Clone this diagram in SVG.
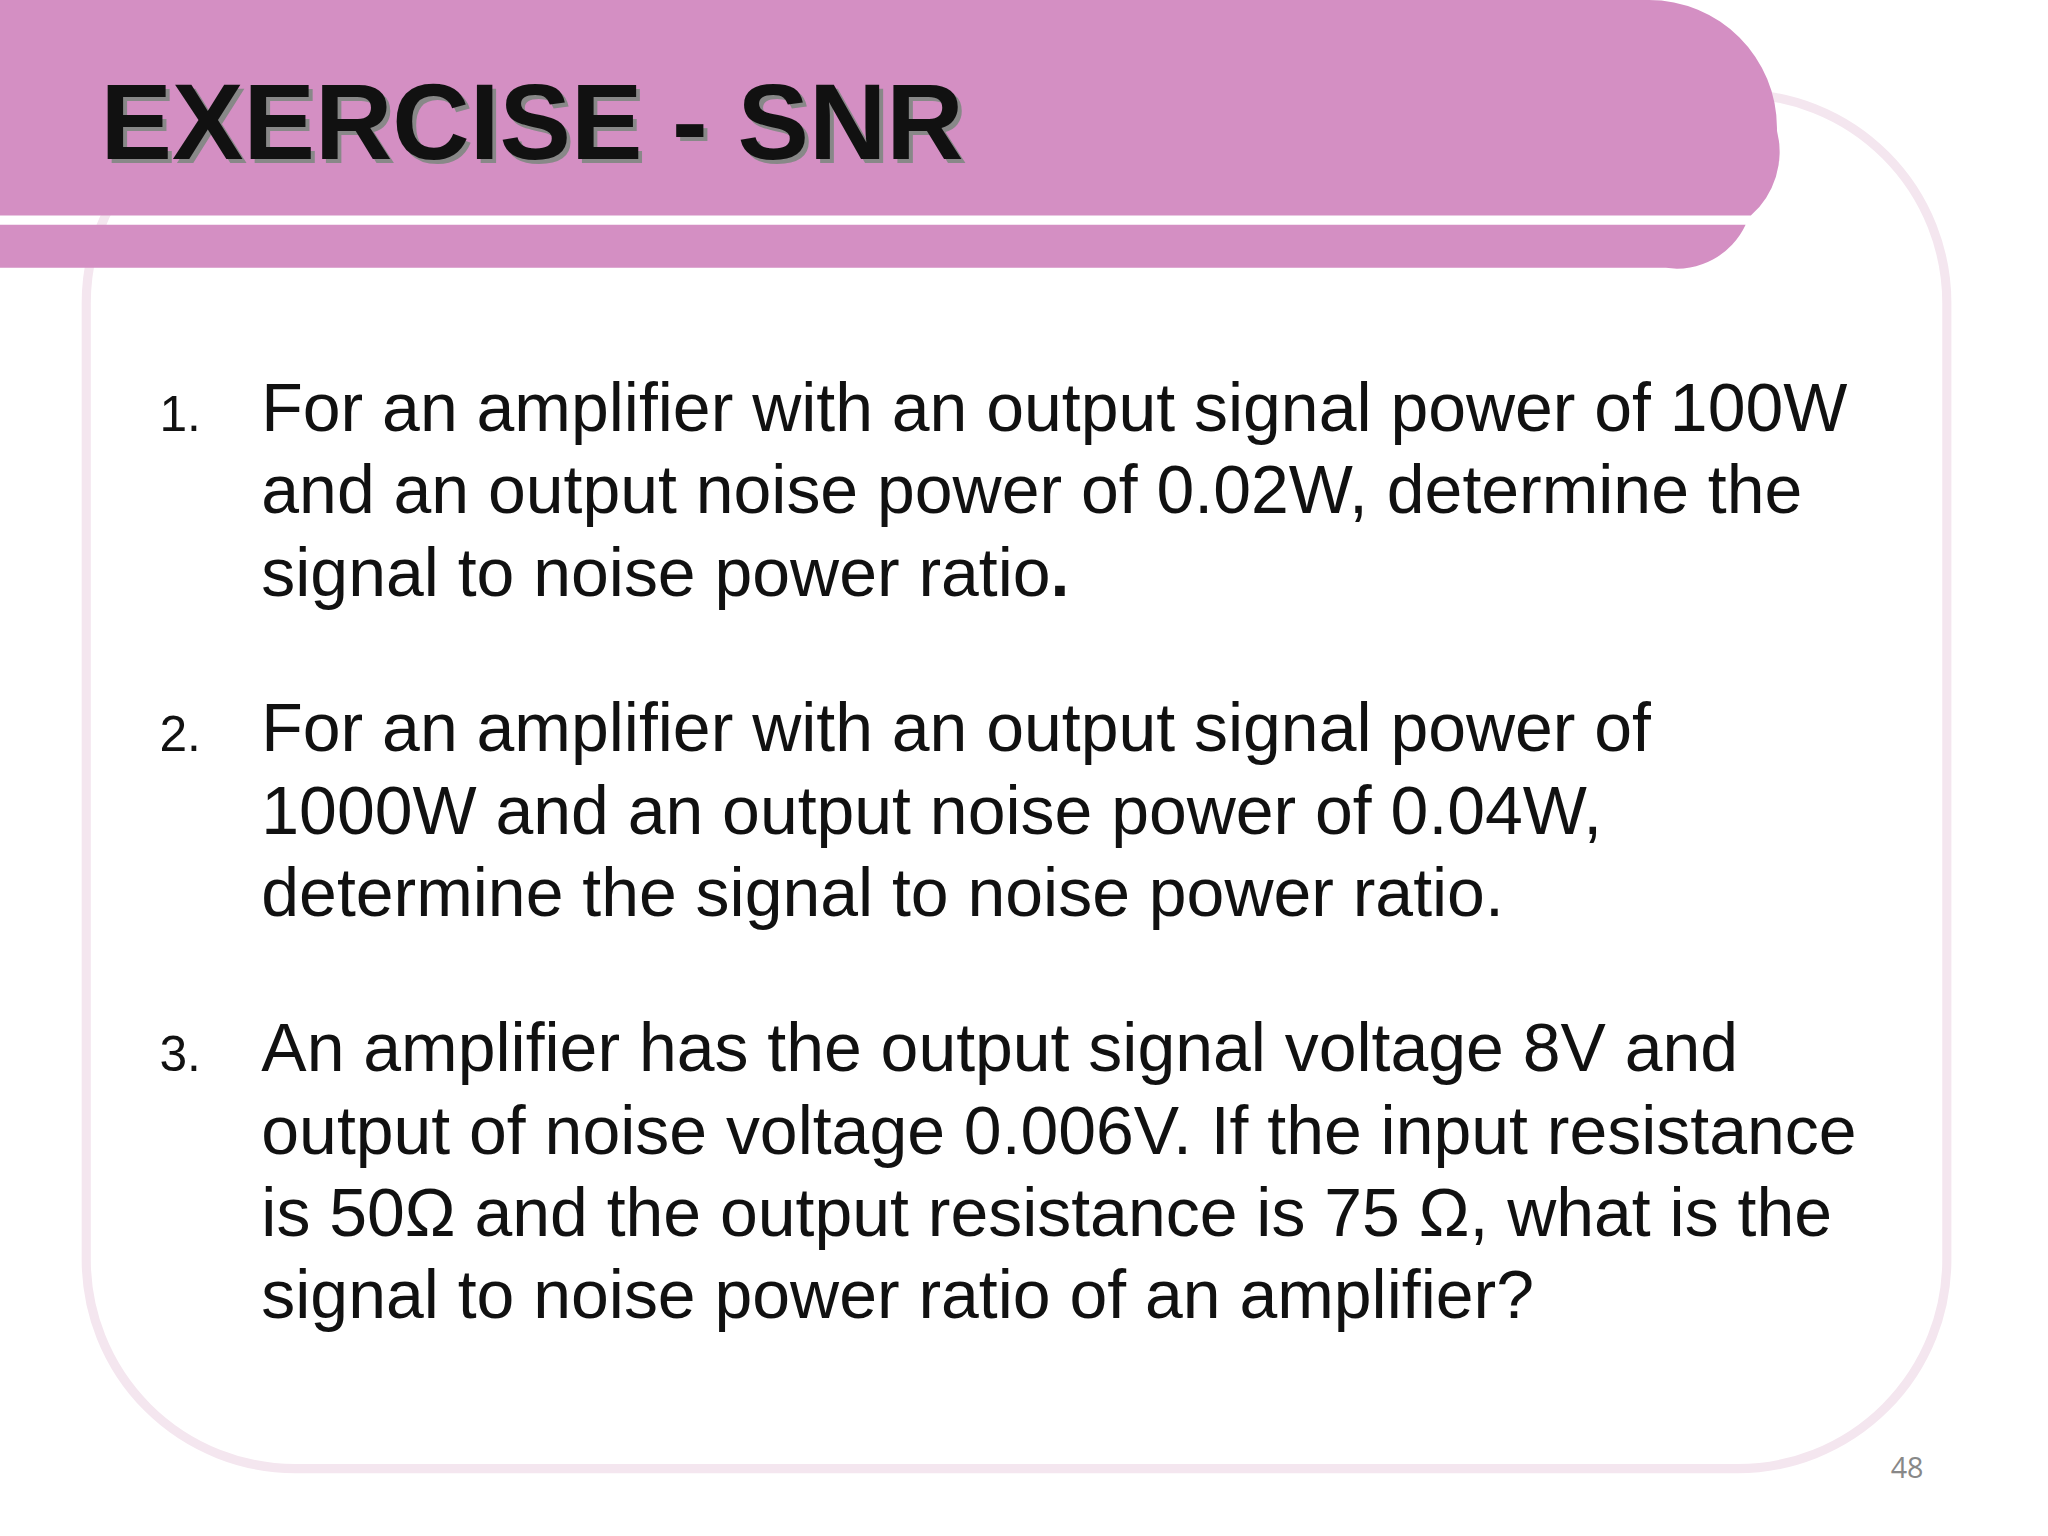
<svg xmlns="http://www.w3.org/2000/svg" width="2048" height="1536" viewBox="0 0 2048 1536">
<style>
.t{font-family:"Liberation Sans",Arial,sans-serif;fill:#111;font-size:52px}
.n{font-family:"Liberation Sans",Arial,sans-serif;fill:#111;font-size:38px}
</style>
<rect width="2048" height="1536" fill="#fff"/>
<g transform="scale(1.3066)">
<rect x="66" y="72" width="1424" height="1052" rx="160" fill="none" stroke="#f4e6ef" stroke-width="7"/>
<g id="header">
<path d="M0 0 H1262 A98 98 0 0 1 1360 98 V100 A65 65 0 0 1 1340 165 H0 Z" fill="#d48fc3"/>
<path d="M0 172 H1336 A58 58 0 0 1 1275 205 H0 Z" fill="#d48fc3"/>
<text x="80" y="125" font-family="Liberation Sans,Arial,sans-serif" font-weight="bold" font-size="82" fill="#888">EXERCISE - SNR</text>
<text x="77" y="122" font-family="Liberation Sans,Arial,sans-serif" font-weight="bold" font-size="82" fill="#111">EXERCISE - SNR</text>
</g>
<g id="list">
<text class="n" x="122" y="330">1.</text>
<text class="t" x="200" y="330">For an amplifier with an output signal power of 100W</text>
<text class="t" x="200" y="393">and an output noise power of 0.02W, determine the</text>
<text class="t" x="200" y="456">signal to noise power ratio<tspan font-weight="bold">.</tspan></text>
<text class="n" x="122" y="575">2.</text>
<text class="t" x="200" y="575">For an amplifier with an output signal power of</text>
<text class="t" x="200" y="638">1000W and an output noise power of 0.04W,</text>
<text class="t" x="200" y="701">determine the signal to noise power ratio.</text>
<text class="n" x="122" y="820">3.</text>
<text class="t" x="200" y="820">An amplifier has the output signal voltage 8V and</text>
<text class="t" x="200" y="883">output of noise voltage 0.006V. If the input resistance</text>
<text class="t" x="200" y="946">is 50Ω and the output resistance is 75 Ω, what is the</text>
<text class="t" x="200" y="1009">signal to noise power ratio of an amplifier?</text>
</g>
<text x="1447" y="1131" font-family="Open Sans,sans-serif" font-size="22" fill="#888">48</text>
</g>
</svg>
